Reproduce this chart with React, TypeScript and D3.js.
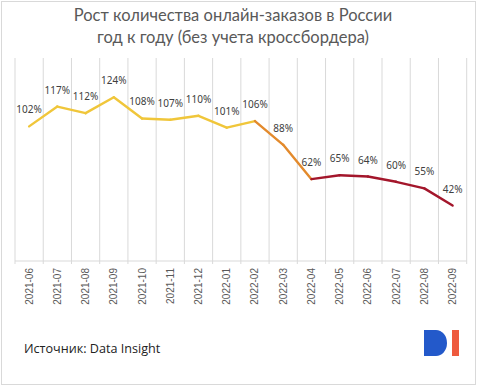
import * as d3 from "d3";

const months = [
  "2021-06", "2021-07", "2021-08", "2021-09", "2021-10", "2021-11", "2021-12", "2022-01",
  "2022-02", "2022-03", "2022-04", "2022-05", "2022-06", "2022-07", "2022-08", "2022-09",
];
const growth = [102, 117, 112, 124, 108, 107, 110, 101, 106, 88, 62, 65, 64, 60, 55, 42];
// segment colour by index of segment end point
const phases = ["pre", "pre", "pre", "pre", "pre", "pre", "pre", "pre", "pre", "drop", "drop", "post", "post", "post", "post", "post"];
const phaseColor: { [k: string]: string } = { pre: "#F0C63A", drop: "#E38A2C", post: "#A3162B" };

const W = 480;
const H = 387;
const left = 15;
const right = 466.7;
const top = 63;
const bottom = 261;

export default function App() {
  const x = d3.scaleBand().domain(months).range([left, right]);
  const y = d3.scaleLinear().domain([0, 150]).range([bottom, top]);
  const cx = (m: string) => (x(m) as number) + x.bandwidth() / 2;
  const line = d3
    .line<number>()
    .x((d, j) => d)
    .y((d) => d);

  const segments = growth.slice(1).map((v, i) => ({
    i0: i,
    pts: [
      [cx(months[i]), y(growth[i])],
      [cx(months[i + 1]), y(v)],
    ] as [number, number][],
    color: phaseColor[phases[i + 1]],
  }));
  const bounds = months.map((m) => x(m) as number).concat([right]);
  const seg = d3.line();

  return (
    <svg
      width={W}
      height={H}
      style={{ position: "absolute", left: 0, top: 0, background: "#fff" }}
    >
      <rect x={1.5} y={1.5} width={474} height={383} fill="#fff" stroke="#d9d9d9" />
      <g fontFamily="Lato" fontSize={16.5} fill="#595959" textAnchor="middle">
        <text x={233} y={21}>Рост количества онлайн-заказов в России</text>
        <text x={233} y={43}>год к году (без учета кроссбордера)</text>
      </g>
      {bounds.map((b, i) => (
        <line key={i} x1={b} x2={b} y1={58} y2={264} stroke="#d9d9d9" />
      ))}
      <line x1={left} x2={right} y1={bottom} y2={bottom} stroke="#d9d9d9" />
      {segments.map((s, k) => (
        <path
          key={k}
          d={seg(s.pts) as string}
          fill="none"
          stroke={s.color}
          strokeWidth={2.4}
          strokeLinecap="round"
        />
      ))}
      <g fontFamily="Noto Sans" fontSize={10} fill="#404040" textAnchor="middle">
        {growth.map((v, i) => (
          <text key={i} x={cx(months[i])} y={y(v) - 13}>
            {v}%
          </text>
        ))}
      </g>
      <g fontFamily="Liberation Sans" fontSize={10} fill="#595959" textAnchor="end">
        {months.map((m) => (
          <text
            key={m}
            transform={`translate(${cx(m) + 3.5},268) rotate(-90)`}
          >
            {m}
          </text>
        ))}
      </g>
      <text x={24} y={353} fontFamily="Open Sans" fontSize={12.6} fill="#222">
        Источник: Data Insight
      </text>
      <path d="M424,330 H436 A11,13 0 0 1 436,356 H424 Z" fill="#2359CA" />
      <rect x={452} y={330} width={7} height={26} fill="#EE5A3E" />
    </svg>
  );
}
